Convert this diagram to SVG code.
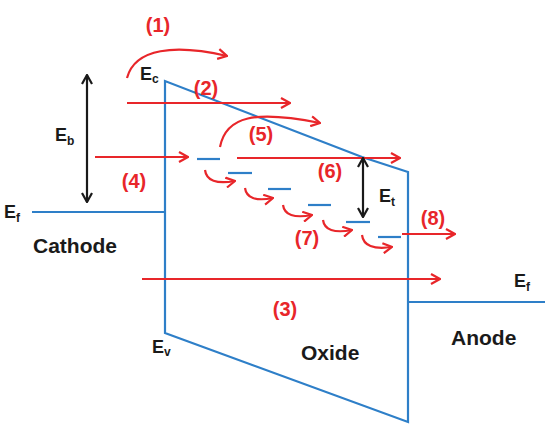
<svg xmlns="http://www.w3.org/2000/svg" width="549" height="429" viewBox="0 0 549 429">
<defs>
<marker id="ar" viewBox="0 0 12 12" refX="11" refY="6" markerWidth="12" markerHeight="12" markerUnits="userSpaceOnUse" orient="auto">
<path d="M2,1 L11,6 L2,11" fill="none" stroke="#e8262a" stroke-width="2.2"/>
</marker>
<marker id="ak" viewBox="0 0 12 12" refX="11" refY="6" markerWidth="12" markerHeight="12" markerUnits="userSpaceOnUse" orient="auto-start-reverse">
<path d="M2,1 L11,6 L2,11" fill="none" stroke="#1a1a1a" stroke-width="2.2"/>
</marker>
</defs>
<style>
.b{fill:none;stroke:#2e7fc8;stroke-width:2.2}
.r{fill:none;stroke:#e8262a;stroke-width:2.2;marker-end:url(#ar)}
.k{fill:none;stroke:#1a1a1a;stroke-width:2.2;marker-start:url(#ak);marker-end:url(#ak)}
.t{font-family:"Liberation Sans",Arial,sans-serif;font-weight:bold;fill:#1a1a1a}
.rl{font-family:"Liberation Sans",Arial,sans-serif;font-weight:bold;fill:#e8262a;font-size:20px;text-anchor:middle}
</style>
<rect width="549" height="429" fill="#fff"/>
<g id="band">
<polyline class="b" points="32,212 165,212 165,81 362,157 408,172 408,422 165,333 165,212"/>
<line class="b" x1="408" y1="302" x2="545" y2="302"/>
</g>
<g id="traps">
<line class="b" x1="197" y1="159" x2="220" y2="159"/>
<line class="b" x1="228" y1="173" x2="252" y2="173"/>
<line class="b" x1="268" y1="189" x2="291" y2="189"/>
<line class="b" x1="308" y1="205" x2="331" y2="205"/>
<line class="b" x1="346" y1="222" x2="370" y2="222"/>
<line class="b" x1="378" y1="237" x2="401" y2="237"/>
</g>
<g id="connectors">
<path class="r" d="M127,78 C135,48 175,44 227,56"/>
<line class="r" x1="127" y1="103" x2="290" y2="103"/>
<line class="r" x1="95" y1="157" x2="188" y2="157"/>
<path class="r" d="M220,147 C226,116 255,110 320,123"/>
<line class="r" x1="237" y1="158" x2="400" y2="158"/>
<line class="r" x1="142" y1="279" x2="440" y2="279"/>
<line class="r" x1="402" y1="234" x2="455" y2="234"/>
<path class="r" d="M205,170 Q207,186 235,181"/>
<path class="r" d="M245,188 Q247,203 273,198"/>
<path class="r" d="M283,205 Q285,220 312,215"/>
<path class="r" d="M323,220 Q325,235 352,230"/>
<path class="r" d="M362,235 Q364,251 392,247"/>
<line class="k" x1="87" y1="75" x2="87" y2="202"/>
<line class="k" x1="363" y1="158" x2="363" y2="217"/>
</g>
<g id="labels">
<text class="t" x="140" y="80" font-size="18">E<tspan font-size="12" dy="3">c</tspan></text>
<text class="t" x="55" y="141" font-size="18">E<tspan font-size="12" dy="4">b</tspan></text>
<text class="t" x="4" y="218" font-size="18">E<tspan font-size="12" dy="4">f</tspan></text>
<text class="t" x="152" y="353" font-size="18">E<tspan font-size="12" dy="3">v</tspan></text>
<text class="t" x="379" y="202" font-size="18">E<tspan font-size="12" dy="4">t</tspan></text>
<text class="t" x="514" y="287" font-size="18">E<tspan font-size="12" dy="4">f</tspan></text>
<text class="t" x="33" y="253" font-size="21">Cathode</text>
<text class="t" x="301" y="360" font-size="21">Oxide</text>
<text class="t" x="451" y="345" font-size="21">Anode</text>
<text class="rl" x="158" y="32">(1)</text>
<text class="rl" x="206" y="95">(2)</text>
<text class="rl" x="285" y="316">(3)</text>
<text class="rl" x="134" y="188">(4)</text>
<text class="rl" x="261" y="141">(5)</text>
<text class="rl" x="330" y="178">(6)</text>
<text class="rl" x="307" y="245">(7)</text>
<text class="rl" x="433" y="225">(8)</text>
</g>
</svg>
